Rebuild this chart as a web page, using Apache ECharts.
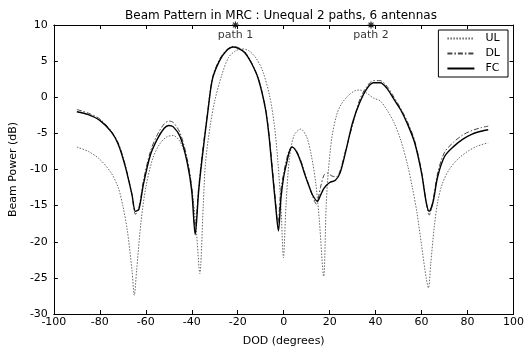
<!DOCTYPE html>
<html><head><meta charset="utf-8">
<script src="https://cdn.jsdelivr.net/npm/echarts@6/dist/echarts.min.js"></script>
<style>html,body{margin:0;padding:0;background:#fff}#c{width:527px;height:352px}</style>
</head><body><div id="c"></div>
<script>
// Angles (degrees) and beam power (dB)
const ulX = [-90,-85,-80,-75,-72,-70,-68,-66,-65,-64,-62,-60,-57,-54,-51,-48,-45,-42,-40,-38,-36.5,-35,-34,-32,-30,-27,-24,-21,-18,-15,-12,-9,-6,-4,-2.5,-1.2,-0.1,1,2.5,4.5,7.4,10,12,14,15.5,17.4,18.5,19.5,21,23,25,28,31,33,36,39,42,45,48,51,54,56,58,60,62,63,64,65.5,67,69,72,76,80,84,89];
const ulY = [-6.9,-7.5,-8.6,-10.5,-12.5,-15,-18.5,-24,-27.4,-24,-17,-12.5,-8.5,-6.5,-5.5,-5.3,-6.2,-8.8,-12.5,-18.5,-24.4,-15,-9,-4,-0.5,3,5.5,6.4,6.7,6.4,5.4,3.5,0,-4,-9,-15,-22.2,-15,-8.5,-5.3,-4.4,-5.5,-8,-12,-17,-24.8,-15,-10,-5.5,-2.5,-1,0.2,0.9,1.0,0.6,-0.1,-0.5,-1.8,-3.5,-6,-9.5,-12.5,-16,-20.5,-25,-26.4,-23,-18,-14.5,-12,-10,-8.5,-7.5,-6.8,-6.3];

const dlX = [-90,-85,-80,-75,-72,-69,-66,-64.5,-63,-61,-58,-55,-52,-50,-48,-45,-42,-40,-38.5,-37,-35.5,-33,-31,-28,-25,-22,-20,-17,-14,-11,-8,-6.5,-5,-3.5,-2.5,-1.3,0,1.3,2.5,3.7,5.5,7.5,9,11,12.7,14.2,16,17.5,19,21,23,24.5,27,30,33,36,39,42,45,48,51,54,57,60,62,63.3,65,67,70,74,78,82,86,89];
const dlY = [-1.7,-2.2,-3.0,-4.7,-6.3,-9.3,-13.5,-16.2,-15.3,-11.5,-7.5,-5.2,-3.7,-3.3,-3.5,-5,-8.5,-12.5,-18,-12.5,-8,-1.8,2.7,5.2,6.5,7.0,6.9,6.3,4.8,2.6,-1.3,-4.8,-9.5,-14.5,-17.5,-13,-10.5,-8.5,-7.3,-6.8,-7.4,-8.8,-10.3,-12.2,-13.8,-14.8,-12.5,-10.8,-10.5,-10.9,-11.0,-10.2,-7.3,-3.8,-0.4,1.4,2.3,2.3,1.5,0.0,-1.6,-3.5,-6,-10.3,-14.5,-16.3,-14.2,-10.5,-7.6,-6.2,-5.2,-4.6,-4.2,-4.0];

const fcX = [-90,-85,-80,-75,-72,-69,-66,-64.5,-63,-61,-58,-55,-52,-50,-48,-45,-42,-40,-38.5,-37,-35.5,-33,-31,-28,-25,-22,-20,-17,-14,-11,-8,-6.5,-5,-3.5,-2.3,-1.2,0,1.3,2.5,3.7,5.5,7.5,9,11,12.7,14.6,16,17.5,20,22.5,24.5,27,30,33,36,39,42,45,48,51,54,57,60,62,63.3,65,67,70,74,78,82,86,89];
const fcY = [-2.0,-2.4,-3.2,-4.8,-6.5,-9.5,-13.5,-15.8,-15.5,-12,-8,-5.8,-4.3,-3.9,-4.1,-5.5,-9,-13,-19,-13,-8.5,-2,2.5,5,6.4,6.95,6.8,6.2,4.7,2.5,-1.5,-5,-10,-15,-18.5,-14,-11,-9.1,-7.5,-6.9,-7.5,-9,-10.5,-12.3,-13.6,-14.4,-13.6,-12.6,-11.8,-11.5,-10.5,-7.5,-3.5,-0.8,1.1,2.0,2.0,1.2,-0.3,-1.8,-3.8,-6.3,-10.5,-14.5,-15.8,-14.5,-11,-8.2,-6.8,-5.8,-5.1,-4.7,-4.5];

const pathX = [-21, 38];
const pathNames = ['path 1', 'path 2'];
const xTicks = {min: -100, max: 100, interval: 20};
const yTicks = {min: -30, max: 10, interval: 5};

const zip = (xs, ys) => xs.map((x, i) => [x, ys[i]]);
const FONT = 'DejaVu Sans';
const chart = echarts.init(document.getElementById('c'));
const axCommon = {
  axisLine: {show: true, onZero: false, lineStyle: {color: '#000', width: 1}},
  axisTick: {show: true, inside: true, length: 4, lineStyle: {color: '#000'}},
  splitLine: {show: false}
};
chart.setOption({
  animation: false,
  title: {text: 'Beam Pattern in MRC : Unequal 2 paths, 6 antennas', left: 276, textAlign: 'center', top: 5,
    textStyle: {fontFamily: FONT, fontSize: 12, fontWeight: 'normal', color: '#000'}},
  legend: {
    right: 19, top: 30, orient: 'vertical', itemWidth: 27, itemHeight: 10, itemGap: 4,
    backgroundColor: '#fff', borderColor: '#000', borderWidth: 1, padding: [3, 8, 3, 8],
    itemStyle: {opacity: 0},
    textStyle: {fontFamily: FONT, fontSize: 11, color: '#000', padding: [0, 0, 0, 6]},
    data: ['UL', 'DL', 'FC']
  },
  grid: {left: 49, right: 11, top: 25, bottom: 30},
  xAxis: [
    Object.assign({type: 'value', min: xTicks.min, max: xTicks.max, interval: xTicks.interval, position: 'bottom',
      name: 'DOD (degrees)', nameLocation: 'middle', nameGap: 22,
      nameTextStyle: {fontFamily: FONT, fontSize: 11, color: '#000'},
      axisLabel: {fontFamily: FONT, fontSize: 11, color: '#000', margin: 3}}, axCommon),
    Object.assign({type: 'value', min: xTicks.min, max: xTicks.max, interval: xTicks.interval, position: 'top',
      axisLabel: {show: false}}, axCommon)
  ],
  yAxis: [
    Object.assign({type: 'value', min: yTicks.min, max: yTicks.max, interval: yTicks.interval, position: 'left',
      name: 'Beam Power (dB)', nameLocation: 'middle', nameGap: 31,
      nameTextStyle: {fontFamily: FONT, fontSize: 11, color: '#000'},
      axisLabel: {fontFamily: FONT, fontSize: 11, color: '#000', margin: 6}}, axCommon),
    Object.assign({type: 'value', min: yTicks.min, max: yTicks.max, interval: yTicks.interval, position: 'right',
      axisLabel: {show: false}}, axCommon)
  ],
  series: [
    {name: 'UL', type: 'line', data: zip(ulX, ulY), showSymbol: false, symbol: 'none', smooth: 0.3,
      lineStyle: {color: '#666', width: 1, type: [1.5, 1.5]}, itemStyle: {color: '#666'}},
    {name: 'DL', type: 'line', data: zip(dlX, dlY), showSymbol: false, symbol: 'none', smooth: 0.3,
      lineStyle: {color: '#444', width: 1, type: [5, 2, 1.5, 2]}, itemStyle: {color: '#444'}},
    {name: 'FC', type: 'line', data: zip(fcX, fcY), showSymbol: false, symbol: 'none', smooth: 0.3,
      lineStyle: {color: '#000', width: 1.4}, itemStyle: {color: '#000'}},
    {name: 'paths', type: 'scatter', clip: false, silent: true,
      data: pathX.map((x, i) => ({value: [x, 10], name: pathNames[i]})),
      symbol: 'path://M5,0V10M0,5H10M1.5,1.5L8.5,8.5M8.5,1.5L1.5,8.5', symbolSize: 7,
      itemStyle: {color: '#000', borderColor: '#000', borderWidth: 1.2},
      label: {show: true, position: 'bottom', distance: 1, formatter: p => p.name,
        fontFamily: FONT, fontSize: 11, color: '#000'}}
  ]
});
</script></body></html>
